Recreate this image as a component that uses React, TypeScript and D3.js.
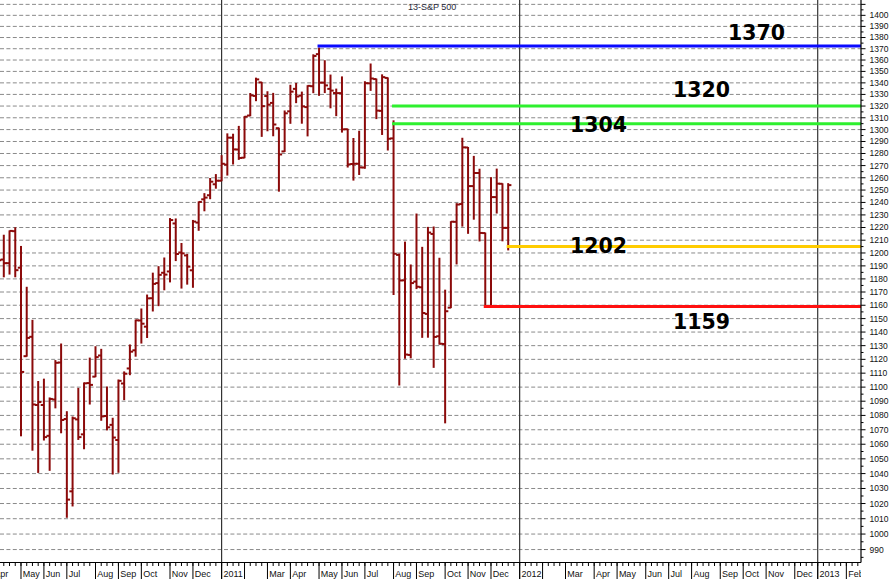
import React from 'react';
import * as d3 from 'd3';

// ---------- DATA (weekly bars, dated by the Monday of the week) ----------
const barDates = [
  '2010-04-05','2010-04-12','2010-04-19','2010-04-26','2010-05-03','2010-05-10','2010-05-17','2010-05-24',
  '2010-05-31','2010-06-07','2010-06-14','2010-06-21','2010-06-28','2010-07-05','2010-07-12','2010-07-19',
  '2010-07-26','2010-08-02','2010-08-09','2010-08-16','2010-08-23','2010-08-30','2010-09-06','2010-09-13',
  '2010-09-20','2010-09-27','2010-10-04','2010-10-11','2010-10-18','2010-10-25','2010-11-01','2010-11-08',
  '2010-11-15','2010-11-22','2010-11-29','2010-12-06','2010-12-13','2010-12-20','2010-12-27','2011-01-03',
  '2011-01-10','2011-01-17','2011-01-24','2011-01-31','2011-02-07','2011-02-14','2011-02-21','2011-02-28',
  '2011-03-07','2011-03-14','2011-03-21','2011-03-28','2011-04-04','2011-04-11','2011-04-18','2011-04-25',
  '2011-05-02','2011-05-09','2011-05-16','2011-05-23','2011-05-30','2011-06-06','2011-06-13','2011-06-20',
  '2011-06-27','2011-07-04','2011-07-11','2011-07-18','2011-07-25','2011-08-01','2011-08-08','2011-08-15',
  '2011-08-22','2011-08-29','2011-09-05','2011-09-12','2011-09-19','2011-09-26','2011-10-03','2011-10-10',
  '2011-10-17','2011-10-24','2011-10-31','2011-11-07','2011-11-14','2011-11-21','2011-11-28','2011-12-05',
  '2011-12-12','2011-12-19',
];
const opens = [
  1178.7,1194.9,1192.1,1217.1,1188.6,1122.3,1136.5,1087.3,
  1087.3,1065.8,1091.2,1117.7,1077.5,1028.1,1077.2,1066.8,
  1102.9,1107.5,1122.8,1079.6,1073.4,1062.9,1102.6,1113.4,
  1126.6,1148.6,1144.0,1165.3,1176.8,1184.7,1185.7,1223.2,
  1200.4,1198.1,1186.6,1223.9,1242.5,1245.8,1254.7,1257.6,
  1270.8,1293.2,1283.3,1276.5,1311.9,1328.7,1340.4,1328.6,
  1322.7,1301.2,1281.7,1315.5,1334.8,1329.0,1319.1,1337.1,
  1365.2,1340.2,1334.8,1331.2,1331.1,1300.3,1271.3,1271.5,
  1268.4,1339.6,1343.3,1315.9,1344.3,1292.6,1198.5,1178.9,
  1123.2,1177.9,1173.6,1153.5,1214.9,1136.9,1131.2,1158.2,
  1224.5,1238.7,1285.0,1253.2,1263.9,1215.6,1158.7,1244.3,
  1255.1,1219.7,
];
const highs = [
  1194.7,1213.9,1217.3,1219.8,1205.1,1173.6,1148.7,1104.0,
  1105.7,1092.3,1119.1,1131.2,1082.6,1078.9,1099.1,1103.0,
  1120.9,1129.2,1127.3,1100.1,1078.0,1105.1,1110.9,1130.5,
  1148.9,1157.2,1167.7,1184.4,1189.4,1196.1,1227.1,1226.8,
  1207.4,1198.9,1225.6,1240.4,1247.1,1259.4,1262.6,1278.2,
  1296.4,1296.1,1302.7,1311.0,1330.8,1344.1,1340.4,1332.3,
  1330.9,1301.2,1315.8,1337.9,1339.5,1332.0,1337.5,1364.6,
  1370.6,1359.4,1346.8,1334.6,1345.2,1300.3,1292.5,1298.6,
  1341.0,1356.5,1343.3,1347.0,1344.3,1307.4,1199.2,1208.5,
  1190.7,1230.7,1204.4,1220.1,1220.4,1195.9,1171.4,1224.6,
  1239.0,1292.7,1285.0,1277.6,1267.0,1215.6,1260.1,1267.1,
  1255.1,1255.2,
];
const lows = [
  1175.1,1181.6,1183.7,1181.6,1065.8,1122.3,1055.9,1040.8,
  1062.9,1042.2,1085.3,1067.9,1010.9,1018.4,1063.3,1056.9,
  1088.0,1107.5,1076.6,1069.9,1039.7,1040.9,1091.1,1108.9,
  1122.3,1131.9,1136.0,1155.7,1159.7,1171.7,1177.7,1194.1,
  1173.0,1176.0,1173.6,1217.8,1233.3,1243.0,1251.5,1257.6,
  1262.2,1271.3,1275.1,1276.5,1311.7,1324.6,1294.3,1299.0,
  1294.8,1249.1,1281.7,1305.3,1322.9,1305.4,1294.7,1331.5,
  1329.2,1331.6,1318.5,1311.8,1297.9,1268.8,1258.1,1262.7,
  1267.8,1333.5,1309.3,1295.9,1282.9,1168.1,1101.5,1120.8,
  1121.1,1172.6,1136.1,1136.2,1114.2,1131.1,1074.8,1158.2,
  1191.5,1221.1,1215.4,1226.6,1209.4,1158.7,1158.7,1231.5,
  1209.5,1202.4,
];
const closes = [
  1194.4,1192.1,1217.3,1186.7,1110.9,1135.7,1087.7,1089.4,
  1064.9,1091.6,1117.5,1076.8,1022.6,1078.0,1064.9,1102.7,
  1101.6,1121.6,1079.3,1071.7,1064.6,1104.5,1109.6,1125.6,
  1148.7,1146.2,1165.2,1176.2,1183.1,1183.3,1225.9,1199.2,
  1199.7,1189.4,1224.7,1240.4,1243.9,1256.8,1257.6,1271.5,
  1293.2,1283.4,1276.3,1310.9,1329.2,1343.0,1319.9,1321.2,
  1304.3,1279.2,1313.8,1332.4,1328.2,1319.7,1337.4,1363.6,
  1340.2,1337.8,1333.3,1331.1,1300.2,1271.0,1271.5,1268.5,
  1339.7,1343.8,1316.1,1345.0,1292.3,1199.4,1178.8,1123.5,
  1176.8,1174.0,1154.2,1216.0,1136.4,1131.4,1155.5,1224.6,
  1238.3,1285.1,1253.2,1263.9,1215.7,1158.7,1244.3,1255.2,
  1219.7,1254.0,
];

// horizontal level lines
const levelValues = [1372.5, 1320, 1305, 1205, 1159];
const levelLabels = ['1370', '1320', '1304', '1202', '1159'];
const levelStartDates = ['2011-05-02', '2011-08-01', '2011-08-01', '2011-12-19', '2011-11-21'];
const levelColors = ['#0a0aff', '#2ef02e', '#2ef02e', '#ffcc00', '#ff1010'];

// month labels (Apr 2010 .. Feb 2013)
const monthLabels = [
  'Apr','May','Jun','Jul','Aug','Sep','Oct','Nov','Dec',
  '2011','','Mar','Apr','May','Jun','Jul','Aug','Sep','Oct','Nov','Dec',
  '2012','','Mar','Apr','May','Jun','Jul','Aug','Sep','Oct','Nov','Dec',
  '2013','Feb',
];
const yTickValues = d3.range(990, 1411, 10);
const yLabelValues = d3.range(990, 1401, 10);
const title = '13-S&P 500';

// ---------- LAYOUT ----------
const W = 892;
const H = 579;
const PR = 861; // right edge of plot (axis line)
const PB = 562.5; // bottom edge of plot (axis line)
const labelPos = [
  { x: 728, y: 40 },
  { x: 673, y: 97 },
  { x: 570, y: 132 },
  { x: 570, y: 253 },
  { x: 673, y: 329 },
];

const DAY = 864e5;
const REF_MON = Date.UTC(2012, 0, 2);
const parse = (s: string) => {
  const [Y, M, D] = s.split('-').map(Number);
  return Date.UTC(Y, M - 1, D);
};
const weekIdx = (t: number) => Math.floor((t - REF_MON) / (7 * DAY));
const lastIdx = weekIdx(parse(barDates[barDates.length - 1]));
// history weeks stamped by Friday, projected weeks by Thursday
const weekStamp = (w: number) => REF_MON + w * 7 * DAY + (w <= lastIdx ? 4 : 3) * DAY;
const tickWeek = (monthStart: number) => {
  let w = weekIdx(monthStart) - 1;
  while (weekStamp(w) < monthStart) w++;
  return w;
};

export default function App() {
  const x = d3.scaleLinear().domain([-52, 52]).range([221.6, 817.7]);
  const y = d3.scaleLog().domain([981.4, 1414]).range([563, 0]);

  const months = d3.utcMonth.range(new Date(Date.UTC(2010, 3, 1)), new Date(Date.UTC(2013, 2, 1)));
  const monthTicks = months.map((m, i) => ({ w: tickWeek(m.getTime()), label: monthLabels[i], month: m.getUTCMonth() }));
  const weekTicks = d3.range(-93, 61);
  const minorTicks = d3.range(985, 1415, 5).filter((v) => v % 10 !== 0);

  const bars = barDates.map((d, i) => ({
    cx: x(weekIdx(parse(d))),
    o: opens[i], h: highs[i], l: lows[i], c: closes[i],
  }));
  const barColor = '#8b0a0a';

  return (
    <div style={{ position: 'fixed', left: 0, top: 0 }}>
      <svg width={W} height={H} style={{ display: 'block', background: '#fff' }}
        fontFamily="'Liberation Sans', Arial, sans-serif">
        <defs>
          <clipPath id="plotClip"><rect x={0} y={0} width={PR} height={PB} /></clipPath>
          <clipPath id="xlabClip"><rect x={0} y={PB} width={PR} height={H - PB} /></clipPath>
        </defs>
        <rect x={0} y={0} width={W} height={H} fill="#fff" />

        {/* grid */}
        <g clipPath="url(#plotClip)">
          {yTickValues.map((v) => (
            <line key={v} x1={0} x2={PR} y1={y(v)} y2={y(v)} stroke="#8a8a8a" strokeWidth={1}
              strokeDasharray="4,2.4" />
          ))}
        </g>

        {/* year separators */}
        {monthTicks.filter((t) => t.month === 0).map((t) => (
          <line key={'yr' + t.w} x1={x(t.w)} x2={x(t.w)} y1={0} y2={H} stroke="#333" strokeWidth={1.2} />
        ))}

        {/* bars */}
        <g clipPath="url(#plotClip)" stroke={barColor} strokeWidth={2}>
          {bars.map((b, i) => (
            <g key={i}>
              <line x1={b.cx} x2={b.cx} y1={y(b.h) - 0.5} y2={y(b.l) + 0.5} />
              <line x1={b.cx - 3.2} x2={b.cx} y1={y(b.o)} y2={y(b.o)} />
              <line x1={b.cx} x2={b.cx + 3.2} y1={y(b.c)} y2={y(b.c)} />
            </g>
          ))}
        </g>

        {/* level lines */}
        <g clipPath="url(#plotClip)">
          {levelValues.map((v, i) => (
            <line key={i} x1={x(weekIdx(parse(levelStartDates[i]))) - 1.5} x2={PR} y1={y(v)} y2={y(v)}
              stroke={levelColors[i]} strokeWidth={3} />
          ))}
        </g>
        {levelLabels.map((t, i) => (
          <text key={t} x={labelPos[i].x} y={labelPos[i].y} fontFamily="'DejaVu Sans', Verdana, sans-serif"
            fontWeight="bold" fontSize={20.5} fill="#000">{t}</text>
        ))}

        {/* title */}
        <text x={408} y={10} fontSize={9} fill="#2a2a3a">{title}</text>

        {/* right axis */}
        <line x1={PR} x2={PR} y1={0} y2={PB} stroke="#000" strokeWidth={1.2} />
        {yTickValues.map((v) => (
          <line key={'mt' + v} x1={PR} x2={PR + 4.5} y1={y(v)} y2={y(v)} stroke="#000" strokeWidth={1} />
        ))}
        {minorTicks.map((v) => (
          <line key={'mn' + v} x1={PR} x2={PR + 2.5} y1={y(v)} y2={y(v)} stroke="#000" strokeWidth={1} />
        ))}
        {yLabelValues.map((v) => (
          <text key={'yl' + v} x={869.5} y={y(v)} dy="0.35em" fontSize={8.5} fill="#111">{v}</text>
        ))}

        {/* bottom axis */}
        <line x1={0} x2={PR} y1={PB} y2={PB} stroke="#000" strokeWidth={1.2} />
        <g clipPath="url(#xlabClip)">
          {weekTicks.map((w) => (
            <line key={'wk' + w} x1={x(w)} x2={x(w)} y1={PB} y2={PB + 3.5} stroke="#000" strokeWidth={1} />
          ))}
          {monthTicks.map((t, i) => (
            <g key={'mo' + i}>
              <line x1={x(t.w)} x2={x(t.w)} y1={PB} y2={H} stroke="#000" strokeWidth={1} />
              <text x={x(t.w) + 1.8} y={576.5} fontSize={9} fill="#111">{t.label}</text>
            </g>
          ))}
        </g>
      </svg>
    </div>
  );
}
